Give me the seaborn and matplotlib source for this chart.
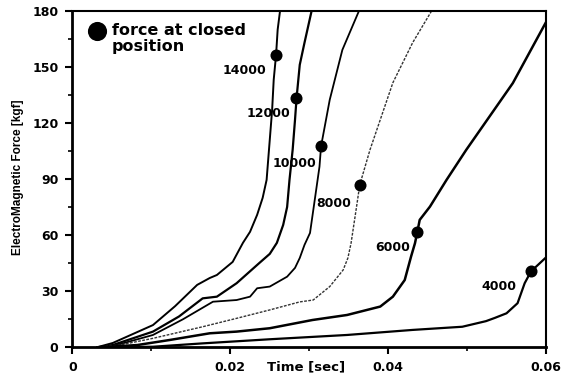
import numpy as np
import pandas as pd
import matplotlib
matplotlib.use("Agg")
import matplotlib.pyplot as plt
import seaborn as sns

# ---- data (time in sec, force in kgf) ----
t_14000 = [0.0031, 0.0051, 0.0102, 0.0130, 0.0158, 0.0174, 0.0183, 0.0203, 0.0216, 0.0225, 0.0234, 0.0241, 0.0246, 0.0249, 0.0253, 0.0255, 0.0258, 0.0260, 0.0263]
f_14000 = [0.0, 2.3, 11.9, 22.0, 33.4, 37.1, 38.7, 45.7, 55.9, 61.8, 70.9, 80.0, 89.6, 105.7, 127.1, 143.2, 156.6, 170.0, 180.0]

t_12000 = [0.0031, 0.0051, 0.0102, 0.0135, 0.0165, 0.0183, 0.0208, 0.0237, 0.0250, 0.0259, 0.0267, 0.0272, 0.0275, 0.0279, 0.0282, 0.0284, 0.0288, 0.0294, 0.0303]
f_12000 = [0.0, 1.2, 8.4, 16.5, 26.2, 27.1, 34.3, 45.2, 50.0, 55.9, 65.5, 75.1, 89.6, 105.7, 121.8, 133.6, 151.2, 163.0, 180.0]

t_10000 = [0.0031, 0.0056, 0.0102, 0.0140, 0.0178, 0.0208, 0.0225, 0.0234, 0.0250, 0.0272, 0.0282, 0.0288, 0.0294, 0.0301, 0.0307, 0.0313, 0.0315, 0.0326, 0.0342, 0.0363]
f_10000 = [0.0, 1.2, 6.6, 15.0, 24.4, 25.3, 27.1, 31.6, 32.5, 37.8, 42.5, 47.8, 54.8, 61.2, 78.9, 96.7, 107.6, 132.5, 159.2, 180.0]

t_8000 = [0.0031, 0.0060, 0.0102, 0.0165, 0.0208, 0.0250, 0.0288, 0.0305, 0.0326, 0.0343, 0.0349, 0.0353, 0.0360, 0.0364, 0.0377, 0.0406, 0.0431, 0.0455]
f_8000 = [0.0, 1.2, 4.8, 11.0, 15.5, 20.0, 24.3, 25.3, 32.5, 41.4, 47.8, 55.7, 75.3, 86.9, 105.7, 141.6, 163.0, 180.0]

t_6000 = [0.0035, 0.0082, 0.0123, 0.0174, 0.0208, 0.0250, 0.0304, 0.0348, 0.0390, 0.0406, 0.0421, 0.0429, 0.0434, 0.0437, 0.0440, 0.0453, 0.0474, 0.0499, 0.0558, 0.0600]
f_6000 = [0.0, 1.2, 3.9, 7.5, 8.4, 10.2, 14.6, 17.3, 21.8, 27.1, 36.0, 48.5, 55.7, 61.8, 68.2, 75.3, 89.6, 105.7, 141.4, 174.0]

t_4000 = [0.0048, 0.0102, 0.0165, 0.0250, 0.0348, 0.0431, 0.0494, 0.0509, 0.0524, 0.0535, 0.0550, 0.0564, 0.0573, 0.0581, 0.0600]
f_4000 = [0.0, 0.3, 2.1, 4.3, 6.6, 9.3, 11.0, 12.5, 14.0, 15.7, 18.2, 23.6, 34.3, 40.6, 48.1]

speeds = ["14000", "12000", "10000", "8000", "6000", "4000"]
closed_t = [0.02576, 0.02838, 0.03154, 0.03639, 0.04365, 0.0581]
closed_f = [156.6, 133.6, 107.6, 86.9, 61.8, 40.6]
label_t = [0.02458, 0.02756, 0.03091, 0.03534, 0.04281, 0.0563]
label_f = [148.0, 125.3, 98.5, 76.8, 53.6, 32.5]

x_ticks = [0, 0.02, 0.04, 0.06]
x_ticklabels = ["0", "0.02", "0.04", "0.06"]
y_ticks = [0, 30, 60, 90, 120, 150, 180]

# ---- plotting ----
sns.set_style("ticks")
plt.rcParams["font.family"] = ["DejaVu Sans"]
plt.rcParams["font.weight"] = "bold"
plt.rcParams["text.color"] = "black"
plt.rcParams["xtick.color"] = "black"
plt.rcParams["ytick.color"] = "black"
plt.rcParams["axes.edgecolor"] = "black"

fig = plt.figure(figsize=(5.72, 3.74), dpi=100)
ax = fig.add_axes([0.1267, 0.0714, 0.8278, 0.8992])

curves = [(t_14000, f_14000), (t_12000, f_12000), (t_10000, f_10000),
          (t_8000, f_8000), (t_6000, f_6000), (t_4000, f_4000)]
styles = [dict(lw=1.4, ls="-", color="black"),
          dict(lw=1.6, ls="-", color="black"),
          dict(lw=1.3, ls="-", color="black"),
          dict(lw=1.0, ls=(0, (2, 1)), color="#333333"),
          dict(lw=1.8, ls="-", color="black"),
          dict(lw=1.6, ls="-", color="black")]

for (tt, ff), st in zip(curves, styles):
    df = pd.DataFrame({"t": tt, "F": ff})
    sns.lineplot(data=df, x="t", y="F", ax=ax, sort=False, estimator=None,
                 color=st["color"], linewidth=st["lw"], linestyle=st["ls"])

dots = pd.DataFrame({"t": closed_t, "F": closed_f})
sns.scatterplot(data=dots, x="t", y="F", ax=ax, color="black", s=75,
                marker="o", edgecolor="black", linewidth=0, zorder=5)

for lab, lt, lf in zip(speeds, label_t, label_f):
    ax.text(lt, lf, lab, ha="right", va="center", fontsize=9,
            fontweight="bold", color="black")

# legend (manual, like the original)
ax.scatter([0.00305], [169.5], s=190, color="black", marker="o", linewidth=0,
           clip_on=False, zorder=6)
ax.text(0.00495, 169.5, "force at closed", ha="left", va="center",
        fontsize=11.5, fontweight="bold")
ax.text(0.00495, 161, "position", ha="left", va="center",
        fontsize=11.5, fontweight="bold")

ax.set_xlim(0, 0.06)
ax.set_ylim(0, 180)
ax.set_xticks(x_ticks)
ax.set_xticklabels(x_ticklabels)
ax.set_yticks(y_ticks)
ax.set_xticks([0.01, 0.03, 0.05], minor=True)
ax.set_yticks([15, 45, 75, 105, 135, 165], minor=True)
ax.tick_params(axis="both", which="major", direction="out", length=5,
               width=1.5, labelsize=9, pad=5, colors="black")
ax.tick_params(axis="both", which="minor", direction="out", length=3,
               width=1.2, colors="black")
for lbl in ax.get_xticklabels() + ax.get_yticklabels():
    lbl.set_fontweight("bold")

for side in ["left", "bottom"]:
    ax.spines[side].set_linewidth(2.0)
for side in ["top", "right"]:
    ax.spines[side].set_visible(True)
    ax.spines[side].set_linewidth(1.5)

ax.set_xlabel("")
ax.set_ylabel("")
fig.text(18 / 572, 1 - 177 / 374, "ElectroMagnetic Force [kgf]", rotation=90,
         ha="center", va="center", fontsize=8.5, fontweight="bold",
         family=["Liberation Sans", "DejaVu Sans"], color="black")
fig.text(306 / 572, 1 / 374, "Time [sec]", ha="center", va="bottom",
         fontsize=9.5, fontweight="bold", color="black")

fig.savefig("out.png", dpi=100)
